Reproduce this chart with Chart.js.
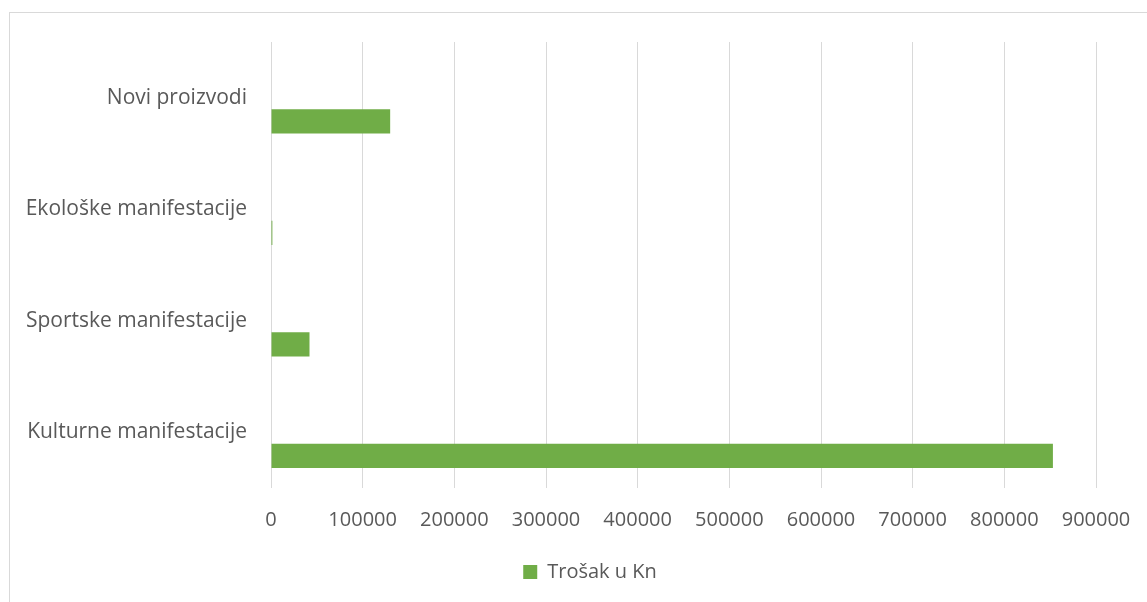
<!DOCTYPE html>
<html>
<head>
<meta charset="utf-8">
<script src="https://cdn.jsdelivr.net/npm/chart.js@4/dist/chart.umd.min.js"></script>
<style>
    html, body { margin: 0; padding: 0; background: #fff; overflow: hidden; }
    .frame {
        position: absolute; left: 9px; top: 12px; width: 1200px; height: 700px;
        border-top: 1px solid #d9d9d9; border-left: 1px solid #d9d9d9;
    }
    .chart-box { position: absolute; left: 0; top: 0; width: 1126px; height: 589px; }
</style>
</head>
<body>
<div class="frame">
    <div class="chart-box"><canvas id="costChart"></canvas></div>
</div>
<script>
// Categories, top to bottom
const categories = ['Novi proizvodi', 'Ekološke manifestacije', 'Sportske manifestacije', 'Kulturne manifestacije'];
const costValues = [130000, 1500, 42000, 853000];
const emptyValues = [null, null, null, null];
const seriesName = 'Trošak u Kn';

const textColor = '#595959';
const gridColor = '#d9d9d9';
const barColor = '#70ad47';
const font = { family: "'Open Sans', sans-serif", size: 20 };
const labelFont = { family: "'Open Sans', sans-serif", size: 21 };

// legend in the original is centred a bit right of the canvas middle
const legendShift = {
    id: 'legendShift',
    afterLayout(chart) {
        chart.legend.left += 37;
        chart.legend.right += 37;
    }
};

const ctx = document.getElementById('costChart').getContext('2d');
new Chart(ctx, {
    type: 'bar',
    data: {
        labels: categories,
        datasets: [
            {
                // placeholder series, keeps the bar below the label like the original
                label: '',
                data: emptyValues,
                backgroundColor: 'rgba(0,0,0,0)',
                categoryPercentage: 0.85,
                barPercentage: 0.51
            },
            {
                label: seriesName,
                data: costValues,
                backgroundColor: barColor,
                borderWidth: 0,
                categoryPercentage: 0.85,
                barPercentage: 0.51
            }
        ]
    },
    options: {
        indexAxis: 'y',
        responsive: true,
        maintainAspectRatio: false,
        animation: false,
        layout: {
            padding: { left: 0, right: 40, top: 29, bottom: 10 }
        },
        plugins: {
            tooltip: { enabled: false },
            legend: {
                position: 'bottom',
                labels: {
                    color: textColor,
                    font: font,
                    boxWidth: 14,
                    boxHeight: 14,
                    padding: 10,
                    filter: item => item.text !== ''
                }
            }
        },
        scales: {
            x: {
                min: 0,
                max: 900000,
                grid: {
                    color: gridColor,
                    lineWidth: 1,
                    drawTicks: true,
                    tickLength: 20,
                    tickColor: 'rgba(0,0,0,0)'
                },
                border: { display: false },
                ticks: {
                    stepSize: 100000,
                    color: textColor,
                    font: font,
                    padding: 0,
                    maxRotation: 0,
                    callback: value => String(value)
                },
                afterFit: scale => { scale.height = 64; }
            },
            y: {
                grid: {
                    display: true,
                    drawOnChartArea: false,
                    drawTicks: true,
                    tickLength: 24,
                    color: 'rgba(0,0,0,0)'
                },
                border: { display: false },
                ticks: {
                    color: textColor,
                    font: labelFont,
                    padding: 0,
                    autoSkip: false
                },
                afterFit: scale => { scale.width = 261; }
            }
        }
    },
    plugins: [legendShift]
});
</script>
</body>
</html>
